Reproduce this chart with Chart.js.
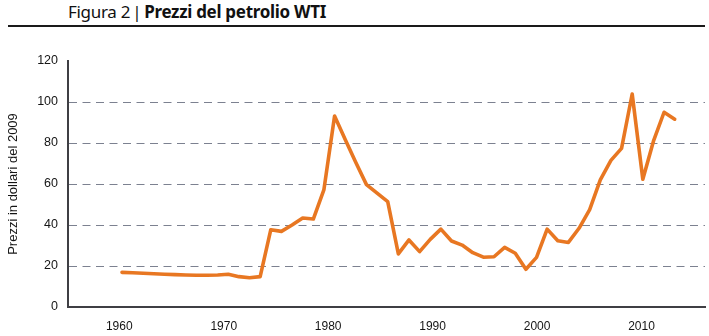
<!DOCTYPE html>
<html lang="it">
<head>
<meta charset="utf-8">
<title>Prezzi del petrolio WTI</title>
<script src="https://cdn.jsdelivr.net/npm/chart.js@4/dist/chart.umd.min.js"></script>
<style>
  html, body { margin: 0; padding: 0; background: #fff; }
  #wrap { position: relative; width: 709px; height: 336px; overflow: hidden; }
  #title {
    position: absolute; left: 68px; top: 1px;
    font-family: "Noto Sans", sans-serif; font-size: 17px; line-height: 21px;
    color: #111; white-space: nowrap; letter-spacing: -0.3px;
  }
  #title b { font-weight: 700; }
  #title .sep { font-weight: 400; margin: 0 3px 0 2px; }
  #rule { position: absolute; left: 8px; top: 25px; width: 697px; height: 2px; background: #1a1a1a; }
  #chart { position: absolute; left: 0; top: 0; }
</style>
</head>
<body>
<div id="wrap">
  <div id="title">Figura 2<span class="sep">|</span><b>Prezzi del petrolio WTI</b></div>
  <div id="rule"></div>
  <canvas id="chart" width="709" height="336"></canvas>
</div>
<script>
// Annual WTI price, 2009 dollars
const years = [
  1960, 1961, 1962, 1963, 1964, 1965, 1966, 1967, 1968, 1969,
  1970, 1971, 1972, 1973, 1974, 1975, 1976, 1977, 1978, 1979,
  1980, 1981, 1982, 1983, 1984, 1985, 1986, 1987, 1988, 1989,
  1990, 1991, 1992, 1993, 1994, 1995, 1996, 1997, 1998, 1999,
  2000, 2001, 2002, 2003, 2004, 2005, 2006, 2007, 2008, 2009,
  2010, 2011, 2012
];
const prices = [
  16.9, 16.7, 16.5, 16.2, 16.0, 15.8, 15.6, 15.5, 15.5, 15.6,
  16.0, 14.8, 14.3, 14.8, 37.7, 36.9, 40.0, 43.4, 42.9, 57.3,
  93.2, 81.7, 70.5, 59.7, 55.5, 51.4, 25.9, 32.7, 27.0, 33.0,
  38.0, 32.2, 30.2, 26.5, 24.3, 24.5, 29.1, 26.2, 18.4, 24.2,
  38.0, 32.3, 31.5, 38.4, 47.5, 62.0, 71.5, 77.4, 103.9, 62.3,
  80.9, 95.0, 91.6
];
const yearTicks = [1960, 1970, 1980, 1990, 2000, 2010];
const priceTicks = [0, 20, 40, 60, 80, 100, 120];

const axisColor = '#3f3f44';
const gridColor = '#7c8190';
const textColor = '#151515';
const tickFont = { family: '"Liberation Sans", Arial, sans-serif', size: 12.5 };

new Chart(document.getElementById('chart'), {
  type: 'line',
  data: {
    datasets: [{
      data: years.map((y, i) => ({ x: y, y: prices[i] })),
      borderColor: '#e87722',
      borderWidth: 3.6,
      borderCapStyle: 'round',
      borderJoinStyle: 'round',
      pointRadius: 0,
      tension: 0,
      xAxisID: 'x',
      yAxisID: 'y'
    }]
  },
  options: {
    responsive: false,
    animation: false,
    events: [],
    layout: { padding: { top: 61, right: 4, left: 0, bottom: 0 } },
    plugins: { legend: { display: false }, tooltip: { enabled: false } },
    scales: {
      // series positions (year of each observation)
      x: {
        type: 'linear',
        display: false,
        min: 1954.92,
        max: 2014.85
      },
      // year labels along the bottom
      xYears: {
        type: 'linear',
        position: 'bottom',
        min: 1955.09,
        max: 2016.08,
        afterBuildTicks: axis => { axis.ticks = yearTicks.map(v => ({ value: v })); },
        afterFit: axis => { axis.height = 29; },
        grid: { display: false, drawTicks: false },
        border: { display: true, color: axisColor, width: 2 },
        ticks: {
          font: { ...tickFont, size: 12 },
          color: textColor,
          padding: 12,
          maxRotation: 0,
          callback: v => String(v)
        }
      },
      y: {
        type: 'linear',
        min: 0,
        max: 120,
        afterBuildTicks: axis => { axis.ticks = priceTicks.map(v => ({ value: v })); },
        afterFit: axis => { axis.width = 68; },
        grid: {
          drawTicks: false,
          lineWidth: 1,
          color: ctx => (ctx.tick && (ctx.tick.value === 0 || ctx.tick.value === 120)) ? 'rgba(0,0,0,0)' : gridColor
        },
        border: { display: true, color: axisColor, width: 2, dash: [8, 5.5] },
        ticks: {
          font: tickFont,
          color: textColor,
          padding: 10,
          callback: v => String(v)
        },
        title: {
          display: true,
          text: 'Prezzi in dollari del 2009',
          font: { ...tickFont, size: 13 },
          color: textColor,
          padding: { top: 6, bottom: 0 }
        }
      }
    }
  }
});
</script>
</body>
</html>
